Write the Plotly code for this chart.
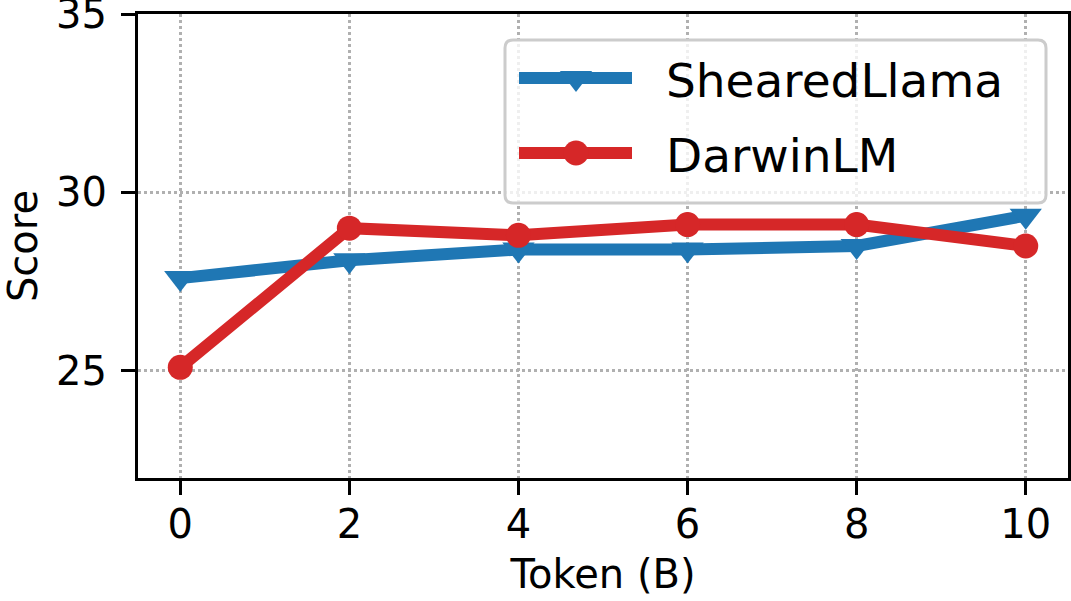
import plotly.graph_objects as go

tokens = [0, 2, 4, 6, 8, 10]
sheared_llama = [27.6, 28.1, 28.4, 28.4, 28.5, 29.35]
darwin_lm = [25.1, 29.0, 28.8, 29.1, 29.1, 28.5]
series_names = ["ShearedLlama", "DarwinLM"]
x_ticks = [0, 2, 4, 6, 8, 10]
y_ticks = [25, 30, 35]

BLUE = "#1f77b4"
RED = "#d62728"
FONT = "DejaVu Sans"

W, H = 1071, 601
L, R, T, B = 138, 1068, 14, 478
XR = [-0.5, 10.5]
YR = [22, 35]


def px_x(p):
    return XR[0] + (p - L) / (R - L) * (XR[1] - XR[0])


def px_y(p):
    return YR[1] - (p - T) / (B - T) * (YR[1] - YR[0])


fig = go.Figure()
fig.add_trace(go.Scatter(x=tokens, y=sheared_llama, mode="lines+markers", name=series_names[0],
                         line=dict(color=BLUE, width=12),
                         marker=dict(symbol="triangle-down", size=28, color=BLUE), showlegend=False))
fig.add_trace(go.Scatter(x=tokens, y=darwin_lm, mode="lines+markers", name=series_names[1],
                         line=dict(color=RED, width=12),
                         marker=dict(symbol="circle", size=25, color=RED), showlegend=False))

# legend box
bx0, bx1, by0, by1, rr = 505, 1046, 40, 203, 8
pts = lambda x, y: f"{px_x(x)},{px_y(y)}"
path = (f"M{pts(bx0+rr,by0)} L{pts(bx1-rr,by0)} Q{pts(bx1,by0)} {pts(bx1,by0+rr)} L{pts(bx1,by1-rr)} "
        f"Q{pts(bx1,by1)} {pts(bx1-rr,by1)} L{pts(bx0+rr,by1)} Q{pts(bx0,by1)} {pts(bx0,by1-rr)} "
        f"L{pts(bx0,by0+rr)} Q{pts(bx0,by0)} {pts(bx0+rr,by0)} Z")
fig.add_shape(type="path", path=path, xref="x", yref="y", layer="between",
              fillcolor="rgba(255,255,255,0.8)", line=dict(color="#cccccc", width=3))

# legend glyphs
lx0, lx1, lxm = 519, 632, 576
rows = [(78, BLUE, "triangle-down", 28), (153, RED, "circle", 25)]
for (yy, col, sym, sz), name in zip(rows, series_names):
    fig.add_trace(go.Scatter(x=[px_x(lx0), px_x(lxm), px_x(lx1)], y=[px_y(yy)] * 3,
                             mode="lines+markers", line=dict(color=col, width=12),
                             marker=dict(symbol=sym, size=[0, sz, 0], color=col, opacity=1,
                                         line=dict(width=0)),
                             showlegend=False, hoverinfo="skip", cliponaxis=False))
    fig.add_annotation(x=px_x(664), y=px_y(yy + 2), xref="x", yref="y", text=name, showarrow=False,
                       xanchor="left", yanchor="middle", font=dict(family=FONT, size=47, color="black"))

axis_common = dict(showline=True, linecolor="black", linewidth=3, mirror=True,
                   ticks="outside", ticklen=14, tickwidth=3, tickcolor="black",
                   showgrid=True, gridcolor="#b0b0b0", gridwidth=3, griddash="dot",
                   zeroline=False, ticklabeloverflow="allow", automargin=False,
                   tickfont=dict(family=FONT, size=40, color="black"))

fig.update_layout(
    width=W, height=H,
    margin=dict(l=L, r=W - R, t=T, b=H - B, pad=0, autoexpand=False),
    paper_bgcolor="white", plot_bgcolor="white",
    font=dict(family=FONT, size=40, color="black"),
    xaxis=dict(range=XR, tickvals=x_ticks, ticktext=[str(v) for v in x_ticks],
               ticklabelstandoff=-5,
               title=dict(text="Token (B)", font=dict(family=FONT, size=40), standoff=14),
               **axis_common),
    yaxis=dict(range=YR, tickvals=y_ticks, ticktext=[str(v) for v in y_ticks],
               ticklabelstandoff=6,
               title=dict(text="Score", font=dict(family=FONT, size=40), standoff=10),
               **axis_common),
)

fig.write_html("out.html")
